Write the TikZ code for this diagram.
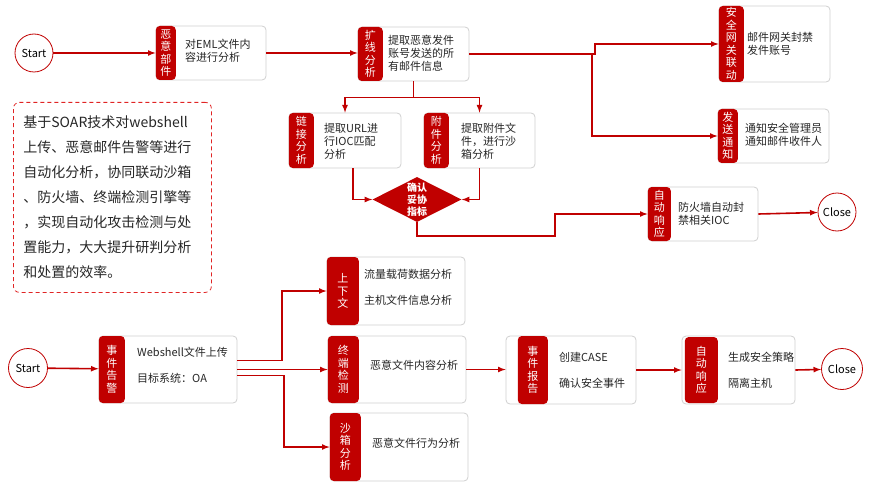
\documentclass[tikz,border=0pt]{standalone}
\usepackage{fontspec}
\setmainfont{Noto Sans CJK SC}
\usetikzlibrary{shapes.geometric}
\definecolor{soarred}{HTML}{C00000}
\definecolor{cardline}{HTML}{D0D0D0}
\definecolor{noteline}{HTML}{E02424}
\tikzset{
  >=latex,
}
\tikzstyle{flow}=[soarred,line width=1.6pt,->]
\tikzstyle{card}=[draw=cardline,line width=0.8pt,fill=white,rounded corners=4pt,inner sep=0pt]
\tikzstyle{tag}=[fill=soarred,rounded corners=4pt,inner sep=0pt,text=white,align=center,anchor=west,font=\fontsize{11}{12.5}\selectfont]
\tikzstyle{txt}=[inner sep=0pt,anchor=west,align=left,text=black!85,font=\fontsize{11}{13}\selectfont]
\tikzstyle{endpoint}=[circle,draw=soarred,line width=0.8pt,fill=white,minimum size=38pt,inner sep=0pt,font=\fontsize{11}{13}\selectfont]
\tikzstyle{judge}=[diamond,fill=soarred,text=white,align=center,inner sep=0pt,aspect=2,minimum width=89pt,minimum height=45pt,font=\bfseries\fontsize{10}{12}\selectfont]
\tikzstyle{note}=[draw=noteline,line width=0.8pt,dash pattern=on 4pt off 3pt,rounded corners=6pt,inner xsep=10pt,inner ysep=0pt,text width=178pt,align=left,text=black!85,font=\fontsize{14}{25}\selectfont]

\begin{document}
\begin{tikzpicture}[x=1pt,y=-1pt]
  \useasboundingbox (0,0) rectangle (874,489);
  % mail flow
  \node[endpoint] (start1) at (34,53) {Start};
  \node[card,minimum width=110pt,minimum height=54pt] (mail) at (211,53) {};
  \node[tag,minimum width=20pt,minimum height=54pt] (mailtag) at (mail.west) {恶\\意\\部\\件};
  \node[txt] (mailtxt) at (185,50.5) {对EML文件内\\容进行分析};
  \node[card,minimum width=111pt,minimum height=54pt] (expand) at (413.5,54) {};
  \node[tag,minimum width=25pt,minimum height=54pt] (expandtag) at (expand.west) {扩\\线\\分\\析};
  \node[txt] (expandtxt) at (388,53) {提取恶意发件\\账号发送的所\\有邮件信息};
  \node[card,minimum width=112pt,minimum height=55pt] (link) at (345,140.5) {};
  \node[tag,minimum width=25pt,minimum height=55pt] (linktag) at (link.west) {链\\接\\分\\析};
  \node[txt] (linktxt) at (324,141.5) {提取URL进\\行IOC匹配\\分析};
  \node[card,minimum width=111pt,minimum height=55pt] (attach) at (479.5,140.5) {};
  \node[tag,minimum width=25pt,minimum height=55pt] (attachtag) at (attach.west) {附\\件\\分\\析};
  \node[txt] (attachtxt) at (461,141.5) {提取附件文\\件，进行沙\\箱分析};
  \node[judge] (confirm) at (417,199.5) {确认\\妥协\\指标};
  \node[card,minimum width=111pt,minimum height=76pt] (gateway) at (774.5,44) {};
  \node[tag,minimum width=25pt,minimum height=76pt] (gatewaytag) at (gateway.west) {安\\全\\网\\关\\联\\动};
  \node[txt] (gatewaytxt) at (747,43.5) {邮件网关封禁\\发件账号};
  \node[card,minimum width=111pt,minimum height=54pt] (notify) at (773.5,136) {};
  \node[tag,minimum width=20pt,minimum height=54pt] (notifytag) at (notify.west) {发\\送\\通\\知};
  \node[txt] (notifytxt) at (745,135) {通知安全管理员\\通知邮件收件人};
  \node[card,minimum width=110pt,minimum height=54pt] (fwresp) at (703,214) {};
  \node[tag,minimum width=23pt,minimum height=54pt] (fwresptag) at (fwresp.west) {自\\动\\响\\应};
  \node[txt] (fwresptxt) at (678,214) {防火墙自动封\\禁相关IOC};
  \node[endpoint] (close1) at (837,212) {Close};
  \draw[flow] (start1) -- (mail);
  \draw[flow] (mail.east) -- (mail.east -| expand.west);
  \draw[flow] (expand.south) -- ++(0,16) -| (link.north);
  \draw[flow] (expand.south) -- ++(0,16) -| (attach.north);
  \draw[flow] ([xshift=8pt]link.south) |- (confirm.west);
  \draw[flow] (attach.south) |- (confirm.east);
  \draw[flow] (confirm.south) |- (555,236) |- (fwresp.west);
  \draw[flow] (expand.east) -- (595,54) |- (gateway.west);
  \draw[flow] (expand.east) -- (592,54) |- (notify.west);
  \draw[flow] (fwresp.east) -- (close1);
  % description
  \node[note,anchor=north west,minimum height=190pt] (desc) at (13,102) {基于SOAR技术对webshell\\上传、恶意邮件告警等进行\\自动化分析，协同联动沙箱\\、防火墙、终端检测引擎等\\，实现自动化攻击检测与处\\置能力，大大提升研判分析\\和处置的效率。};
  % webshell flow
  \node[endpoint,minimum size=39pt] (start2) at (28,368) {Start};
  \node[card,minimum width=138pt,minimum height=67pt] (alert) at (168,369.5) {};
  \node[tag,minimum width=26pt,minimum height=67pt] (alerttag) at (alert.west) {事\\件\\告\\警};
  \node[txt] (alerttxt) at (137,365) {Webshell文件上传\\[13pt]目标系统：OA};
  \node[card,minimum width=138pt,minimum height=68pt] (context) at (396,291) {};
  \node[tag,minimum width=32pt,minimum height=68pt] (contexttag) at (context.west) {上\\下\\文};
  \node[txt] (contexttxt) at (364,287) {流量载荷数据分析\\[13pt]主机文件信息分析};
  \node[card,minimum width=138pt,minimum height=67pt] (edr) at (397,369.5) {};
  \node[tag,minimum width=31pt,minimum height=67pt] (edrtag) at (edr.west) {终\\端\\检\\测};
  \node[txt] (edrtxt) at (370,365) {恶意文件内容分析};
  \node[card,minimum width=138pt,minimum height=68pt] (sandbox) at (399,447) {};
  \node[tag,minimum width=31pt,minimum height=68pt] (sandboxtag) at (sandbox.west) {沙\\箱\\分\\析};
  \node[txt] (sandboxtxt) at (372,443) {恶意文件行为分析};
  \node[card,minimum width=130pt,minimum height=68pt] (report) at (571,370) {};
  \node[tag,minimum width=30pt,minimum height=68pt] (reporttag) at ([xshift=12pt]report.west) {事\\件\\报\\告};
  \node[txt] (reporttxt) at (559,370) {创建CASE\\[13pt]确认安全事件};
  \node[card,minimum width=113pt,minimum height=68pt] (autoresp) at (738.5,370) {};
  \node[tag,minimum width=33pt,minimum height=66pt] (autoresptag) at ([xshift=3pt]autoresp.west) {自\\动\\响\\应};
  \node[txt] (autoresptxt) at (728,370) {生成安全策略\\[13pt]隔离主机};
  \node[endpoint,minimum size=41pt] (close2) at (842,369) {Close};
  \draw[flow] (start2) -- (alert);
  \draw[flow] ([yshift=9pt]alert.east) -- (282,360.5) |- (context.west);
  \draw[flow] (alert.east) -- (edr.west);
  \draw[flow] ([yshift=-6pt]alert.east) -- (284,375.5) |- (sandbox.west);
  \draw[flow] (edr.east) -- (edr.east -| report.west);
  \draw[flow] (report.east) -- (autoresp.west);
  \draw[flow] (autoresp.east) -- (close2);
\end{tikzpicture}
\end{document}
